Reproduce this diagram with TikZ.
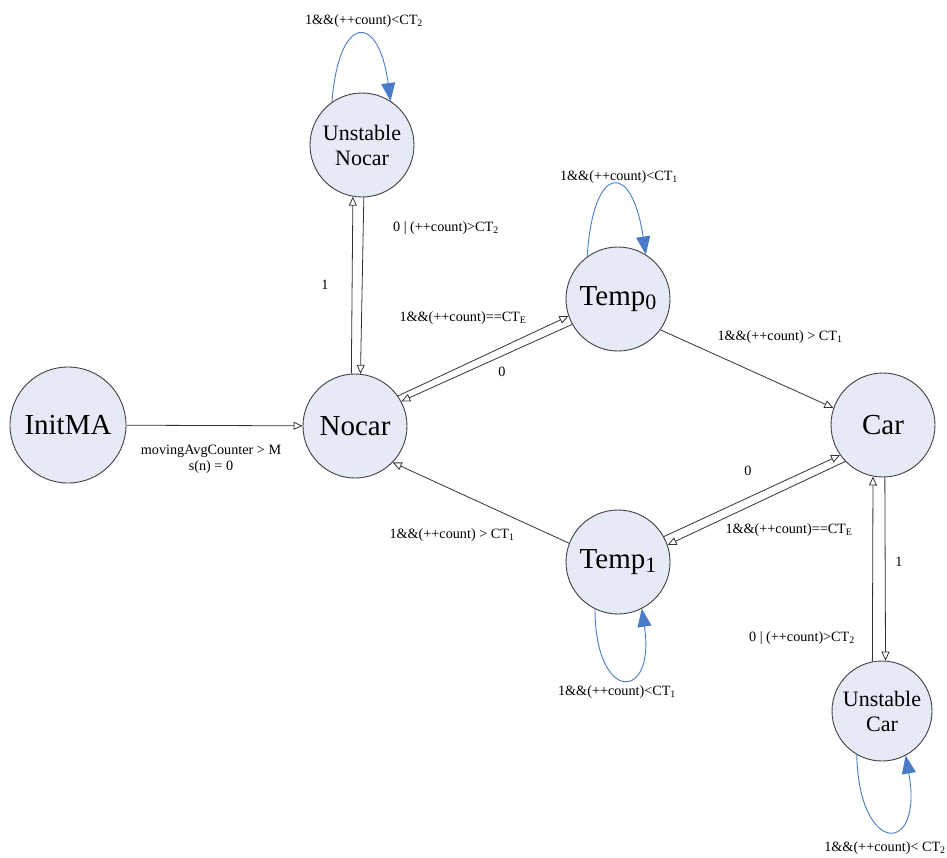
\documentclass[tikz,border=0pt]{standalone}
\usepackage{fontspec}
\setmainfont{Liberation Serif}
\usetikzlibrary{arrows.meta}

\definecolor{statefill}{HTML}{E6EAF6}
\definecolor{statedraw}{HTML}{404040}
\definecolor{loopblue}{HTML}{4A7BC8}

% big state subscript (Temp_0, Temp_1)
\newcommand\statesub[1]{{\fontsize{22}{22}\selectfont\raisebox{-4pt}{#1}}}

\tikzset{
  stnode/.style={circle, draw=statedraw, fill=statefill, line width=0.9pt,
    minimum size=104pt, inner sep=0pt, font=\fontsize{29}{29}\selectfont},
  smallstate/.style={stnode, font=\fontsize{22}{25}\selectfont, align=center},
  trans/.style={draw=black!80, line width=0.8pt,
    -{Triangle[open, length=9pt, width=8pt]}},
  selfloop/.style={draw=loopblue, line width=0.9pt,
    -{Triangle[length=18pt, width=14pt, fill=loopblue]}},
  lbl/.style={font=\fontsize{14.2}{16}\selectfont, inner sep=0pt, align=center}
}

\begin{document}
\begin{tikzpicture}[x=1pt, y=-1pt]
\useasboundingbox (0,0) rectangle (947,857);

% states
\node[stnode, minimum size=116pt] (init) at (68,425) {InitMA};
\node[stnode] (nocar) at (355,426) {Nocar};
\node[stnode] (car) at (883,425) {Car};
\node[stnode] (temp0) at (618,299) {Temp\statesub{0}};
\node[stnode] (temp1) at (618,562) {Temp\statesub{1}};
\node[smallstate] (unoc) at (362,145) {Unstable\\Nocar};
\node[smallstate, minimum size=100pt] (ucar) at (882,711) {Unstable\\Car};

% transitions
\draw[trans] (init) -- (nocar);

\draw[trans] (nocar.94) -- (unoc.260);
\draw[trans] (unoc.272) -- (nocar.84);

\draw[trans] (nocar.35) -- (temp0.199);
\draw[trans] (temp0.209) -- (nocar.28);

\draw[trans] (temp0.-36) -- (car.161);
\draw[trans] (temp1.159) -- (nocar.-44);

\draw[trans] (temp1.29) -- (car.215);
\draw[trans] (car.224) -- (temp1.19);

\draw[trans] (ucar.101) -- (car.259);
\draw[trans] (car.272) -- (ucar.86);

% self loops
\draw[selfloop] (unoc.125) .. controls +(7,-89) and +(-12,-89) .. (unoc.57);
\draw[selfloop] (temp0.126) .. controls +(6,-94) and +(-14,-94) .. (temp0.58);
\draw[selfloop] (temp1.244) .. controls +(0,94) and +(14,94) .. (temp1.297);
\draw[selfloop] (ucar.240) .. controls +(2,101) and +(18,101) .. (ucar.298);

% transition labels
\node[lbl] (l1) at (364,21) {1\&\&(++count)<CT\textsubscript{2}};
\node[lbl] (l2) at (619,177) {1\&\&(++count)<CT\textsubscript{1}};
\node[lbl] (l3) at (446,228) {0 | (++count)>CT\textsubscript{2}};
\node[lbl] (l4) at (325,285) {1};
\node[lbl] (l5) at (463,318) {1\&\&(++count)==CT\textsubscript{E}};
\node[lbl] (l6) at (502,372) {0};
\node[lbl] (l7) at (780,337) {1\&\&(++count) > CT\textsubscript{1}};
\node[lbl] (l8) at (211,459) {movingAvgCounter > M\\s(n) = 0};
\node[lbl] (l9) at (748,471) {0};
\node[lbl] (l10) at (452,535) {1\&\&(++count) > CT\textsubscript{1}};
\node[lbl] (l11) at (789,530) {1\&\&(++count)==CT\textsubscript{E}};
\node[lbl] (l12) at (899,562) {1};
\node[lbl] (l13) at (802,638) {0 | (++count)>CT\textsubscript{2}};
\node[lbl] (l14) at (617,692) {1\&\&(++count)<CT\textsubscript{1}};
\node[lbl] (l15) at (885,848) {1\&\&(++count)< CT\textsubscript{2}};
\end{tikzpicture}
\end{document}
